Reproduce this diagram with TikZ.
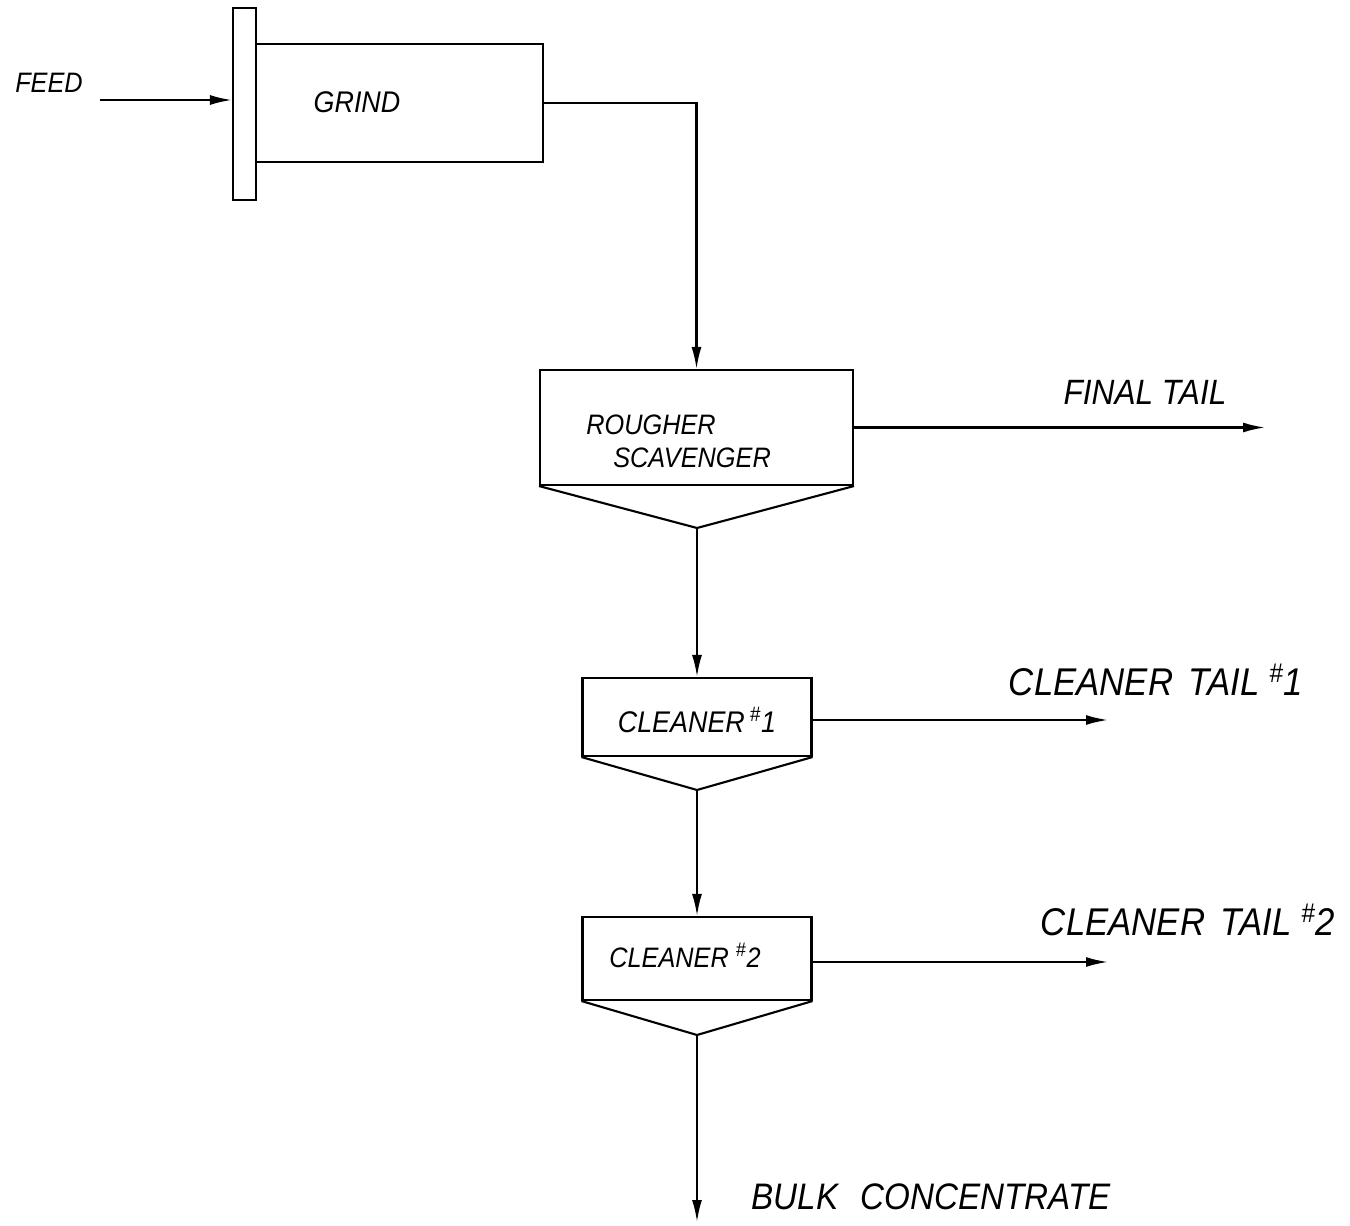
\documentclass[tikz,border=0pt]{standalone}
\usepackage{fontspec}
\newfontfamily\handfont[FakeStretch=0.9]{Liberation Sans}
\usetikzlibrary{positioning, arrows.meta}

\begin{document}
\begin{tikzpicture}[x=0.02cm, y=-0.02cm,
    % Node styles
    unit/.style={rectangle, draw=black, line width=1.2pt, inner sep=0pt},
    tag/.style={font=\handfont\itshape\fontsize{#1}{#1}\selectfont, inner sep=0pt, text=black},
    % Edge styles
    pipe/.style={draw=black, line width=1.2pt},
    flow/.style={draw=black, line width=1.2pt, -{Latex[length=4.4mm, width=2mm]}}
]
\useasboundingbox (0,0) rectangle (1350,1226);

% Grinding mill
\node[unit, minimum width=0.46cm, minimum height=3.84cm] (shell) at (244.5,104) {};
\node[unit, minimum width=5.74cm, minimum height=2.36cm] (mill) at (399.5,103) {};
\node[tag=17] (grindtxt) at (357,102) {GRIND};
\node[tag=16] (feedtxt) at (49,83) {FEED};
\coordinate (feed) at (100,100);

% Rougher scavenger
\node[unit, minimum width=6.26cm, minimum height=2.3cm] (rough) at (696.5,427.5) {};
\coordinate (rtip) at (697,528);
\node[tag=16, anchor=west] (roughtxt) at (586,425) {ROUGHER};
\node[tag=16, anchor=west] (scavtxt) at (613,458) {SCAVENGER};
\coordinate (finalend) at (1265,427.5);
\node[tag=20] (finaltxt) at (1145,392) {FINAL TAIL};

% Cleaner 1
\node[unit, minimum width=4.58cm, minimum height=1.56cm] (clean1) at (697,717) {};
\coordinate (c1tip) at (697,790);
\node[tag=17] (clean1txt) at (697,720) {CLEANER\,\textsuperscript{\#}1};
\coordinate (c1end) at (1108,720);
\node[tag=22] (tail1txt) at (1156,680) {CLEANER\hspace{0.4em}TAIL \textsuperscript{\#}1};

% Cleaner 2
\node[unit, minimum width=4.58cm, minimum height=1.66cm] (clean2) at (697,958.5) {};
\coordinate (c2tip) at (697,1035);
\node[tag=16] (clean2txt) at (685,955) {CLEANER \textsuperscript{\#}2};
\coordinate (c2end) at (1108,962);
\node[tag=22] (tail2txt) at (1188,920) {CLEANER\hspace{0.4em}TAIL \textsuperscript{\#}2};

% Bulk concentrate
\coordinate (bulkend) at (697,1222);
\node[tag=21] (bulktxt) at (931,1197) {BULK\hspace{0.6em}CONCENTRATE};

% Cones
\draw[pipe] (rough.south west) -- (rtip) -- (rough.south east);
\draw[pipe] (clean1.south west) -- (c1tip) -- (clean1.south east);
\draw[pipe] (clean2.south west) -- (c2tip) -- (clean2.south east);

% Draw all edges
\draw[flow] (feed) -- (feed -| shell.west);
\draw[flow] (mill.east) -| (rough.north);

\draw[flow] (rough.east) -- (finalend);
\draw[flow] (rtip) -- (clean1.north);

\draw[flow] (clean1.east |- c1end) -- (c1end);
\draw[flow] (c1tip) -- (clean2.north);

\draw[flow] (clean2.east |- c2end) -- (c2end);
\draw[flow] (c2tip) -- (bulkend);

\end{tikzpicture}
\end{document}
